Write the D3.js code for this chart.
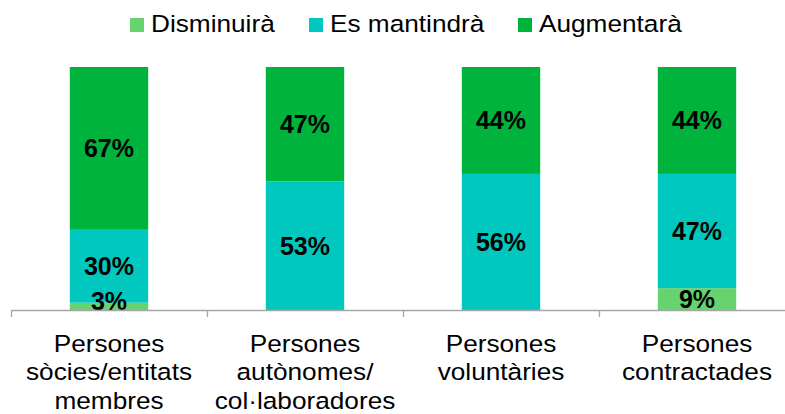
<html>
<head>
<meta charset="utf-8">
<script src="https://d3js.org/d3.v7.min.js"></script>
<style>
  body { margin: 0; background: #fff; }
  text { font-family: "Liberation Sans", Arial, sans-serif; fill: #000; }
  .axis .domain, .axis line { stroke: #a6a6a6; stroke-width: 1.3; }
</style>
</head>
<body>
<svg id="chart" width="785" height="414"></svg>
<script>
// data
const categories = [
  ['Persones', 'sòcies/entitats', 'membres'],
  ['Persones', 'autònomes/', 'col·laboradores'],
  ['Persones', 'voluntàries'],
  ['Persones', 'contractades']
];
const seriesNames = ['Disminuirà', 'Es mantindrà', 'Augmentarà'];
const disminuira = [3, 0, 0, 9];
const mantindra = [30, 53, 56, 47];
const augmentara = [67, 47, 44, 44];
const colors = ['#66d36e', '#00c8be', '#00b33c'];

const svg = d3.select('svg#chart');
const keys = ['d', 'm', 'a'];
const rows = categories.map((c, i) => ({ idx: i, d: disminuira[i], m: mantindra[i], a: augmentara[i] }));

const x = d3.scaleBand().domain(d3.range(categories.length)).range([11, 795])
  .paddingInner(0.6).paddingOuter(0.3);
const xEdge = d3.scaleLinear().domain([0, categories.length]).range([11, 795]);
const y = d3.scaleLinear().domain([0, 100]).range([310, 67]);
const color = d3.scaleOrdinal().domain(keys).range(colors);

const stacked = d3.stack().keys(keys)(rows);

const layers = svg.append('g').selectAll('g').data(stacked).join('g')
  .attr('fill', s => color(s.key));
layers.selectAll('rect').data(s => s).join('rect')
  .attr('x', d => x(d.data.idx))
  .attr('width', x.bandwidth())
  .attr('y', d => y(d[1]))
  .attr('height', d => y(d[0]) - y(d[1]));

// value labels
const labels = svg.append('g');
stacked.forEach(s => {
  s.forEach(d => {
    const v = d[1] - d[0];
    if (v <= 0) return;
    const mid = Math.min((y(d[0]) + y(d[1])) / 2, y(0) - 9);
    labels.append('text')
      .attr('x', x(d.data.idx) + x.bandwidth() / 2)
      .attr('y', mid)
      .attr('dy', '0.36em')
      .attr('text-anchor', 'middle')
      .attr('font-size', 25)
      .attr('font-weight', 'bold')
      .text(v + '%');
  });
});

// axis
svg.append('g')
  .attr('class', 'axis')
  .attr('transform', `translate(0,${y(0)})`)
  .call(d3.axisBottom(xEdge).tickValues(d3.range(categories.length + 1))
    .tickFormat('').tickSize(7).tickSizeOuter(0));

// category labels
categories.forEach((lines, i) => {
  const g = svg.append('g')
    .attr('transform', `translate(${x(i) + x.bandwidth() / 2},0) scale(1.07,1)`);
  lines.forEach((t, j) => {
    g.append('text')
      .attr('x', 0)
      .attr('y', 352 + j * 28.5)
      .attr('text-anchor', 'middle')
      .attr('font-size', 24.5)
      .text(t);
  });
});

// legend
const legendX = [130, 309, 518];
const legend = svg.append('g');
seriesNames.forEach((name, i) => {
  const g = legend.append('g').attr('transform', `translate(${legendX[i]},0)`);
  g.append('rect').attr('x', 0).attr('y', 18).attr('width', 14).attr('height', 14)
    .attr('fill', colors[i]);
  g.append('text').attr('x', 21).attr('y', 32).attr('font-size', 24.5)
    .attr('transform', 'translate(21,0) scale(1.07,1) translate(-21,0)')
    .text(name);
});
</script>
</body>
</html>
